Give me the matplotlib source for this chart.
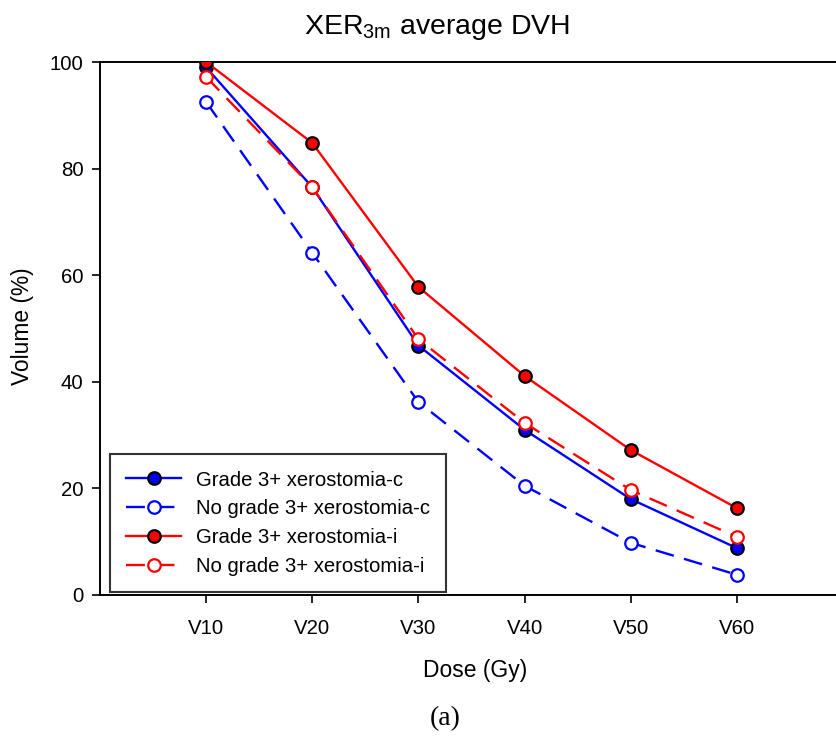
import matplotlib
matplotlib.use("Agg")
import matplotlib.pyplot as plt

plt.rcParams['font.family'] = ['Liberation Sans', 'DejaVu Sans']
plt.rcParams['mathtext.fontset'] = 'custom'
plt.rcParams['mathtext.rm'] = 'Liberation Sans'
plt.rcParams['mathtext.it'] = 'Liberation Sans:italic'

categories = ["V10", "V20", "V30", "V40", "V50", "V60"]
grade3_c = [99.0, 76.5, 46.8, 31.0, 18.0, 8.8]
no_grade3_c = [92.5, 64.2, 36.2, 20.5, 9.8, 3.8]
grade3_i = [100.0, 84.8, 57.8, 41.1, 27.2, 16.3]
no_grade3_i = [97.2, 76.5, 48.0, 32.3, 19.7, 10.9]

W, H = 836, 739
fig = plt.figure(figsize=(W / 100, H / 100), dpi=100)
ax = fig.add_axes([100 / W, (H - 595) / H, 743 / W, (595 - 62) / H])

x = list(range(1, len(categories) + 1))
lw = 1.7
ms = 9
dash = (0, (8, 4.5))
ax.plot(x, grade3_c, color='blue', lw=lw, marker='o', ms=ms, mfc='blue', mec='black', mew=1.6,
        label='Grade 3+ xerostomia-c', zorder=3)
ax.plot(x, no_grade3_c, color='blue', lw=lw, ls=dash, marker='o', ms=ms, mfc='white', mec='blue', mew=1.6,
        label='No grade 3+ xerostomia-c', zorder=3)
ax.plot(x, grade3_i, color='red', lw=lw, marker='o', ms=ms, mfc='red', mec='black', mew=1.6,
        label='Grade 3+ xerostomia-i', zorder=4)
ax.plot(x, no_grade3_i, color='red', lw=lw, ls=dash, marker='o', ms=ms, mfc='white', mec='red', mew=1.6,
        label='No grade 3+ xerostomia-i', zorder=4)

ax.set_xlim(0, 7)
ax.set_ylim(0, 100)
ax.set_xticks(x)
ax.set_xticklabels(categories)
ax.set_yticks([0, 20, 40, 60, 80, 100])
ax.tick_params(axis='both', direction='out', length=6, width=1.2, labelsize=14.7, colors='black', pad=6)
ax.tick_params(axis='x', pad=11)
ax.spines['right'].set_visible(False)
for s in ['left', 'top', 'bottom']:
    ax.spines[s].set_linewidth(1.4)

leg = ax.legend(loc='lower left', bbox_to_anchor=(10 / 743, 3 / 533), fontsize=14.6, frameon=True,
                fancybox=False, edgecolor='black', handlelength=2.7, borderpad=0.8, labelspacing=0.48,
                handletextpad=0.75, borderaxespad=0)
leg.get_frame().set_linewidth(1.5)

fig.text(22 / W, (H - 326) / H, 'Volume (%)', rotation=90, ha='center', va='center', fontsize=16.4)
fig.text(475 / W, (H - 670) / H, 'Dose (Gy)', ha='center', va='center', fontsize=16.5)
fig.text(437 / W, (H - 27) / H, r'XER$_{\mathrm{3m}}$ average DVH', ha='center', va='center', fontsize=20.5)
fig.text(445 / W, (H - 719) / H, '(a)', ha='center', va='center', fontsize=20,
         family=['Liberation Serif', 'DejaVu Serif'])

fig.savefig('out.png', dpi=100)
